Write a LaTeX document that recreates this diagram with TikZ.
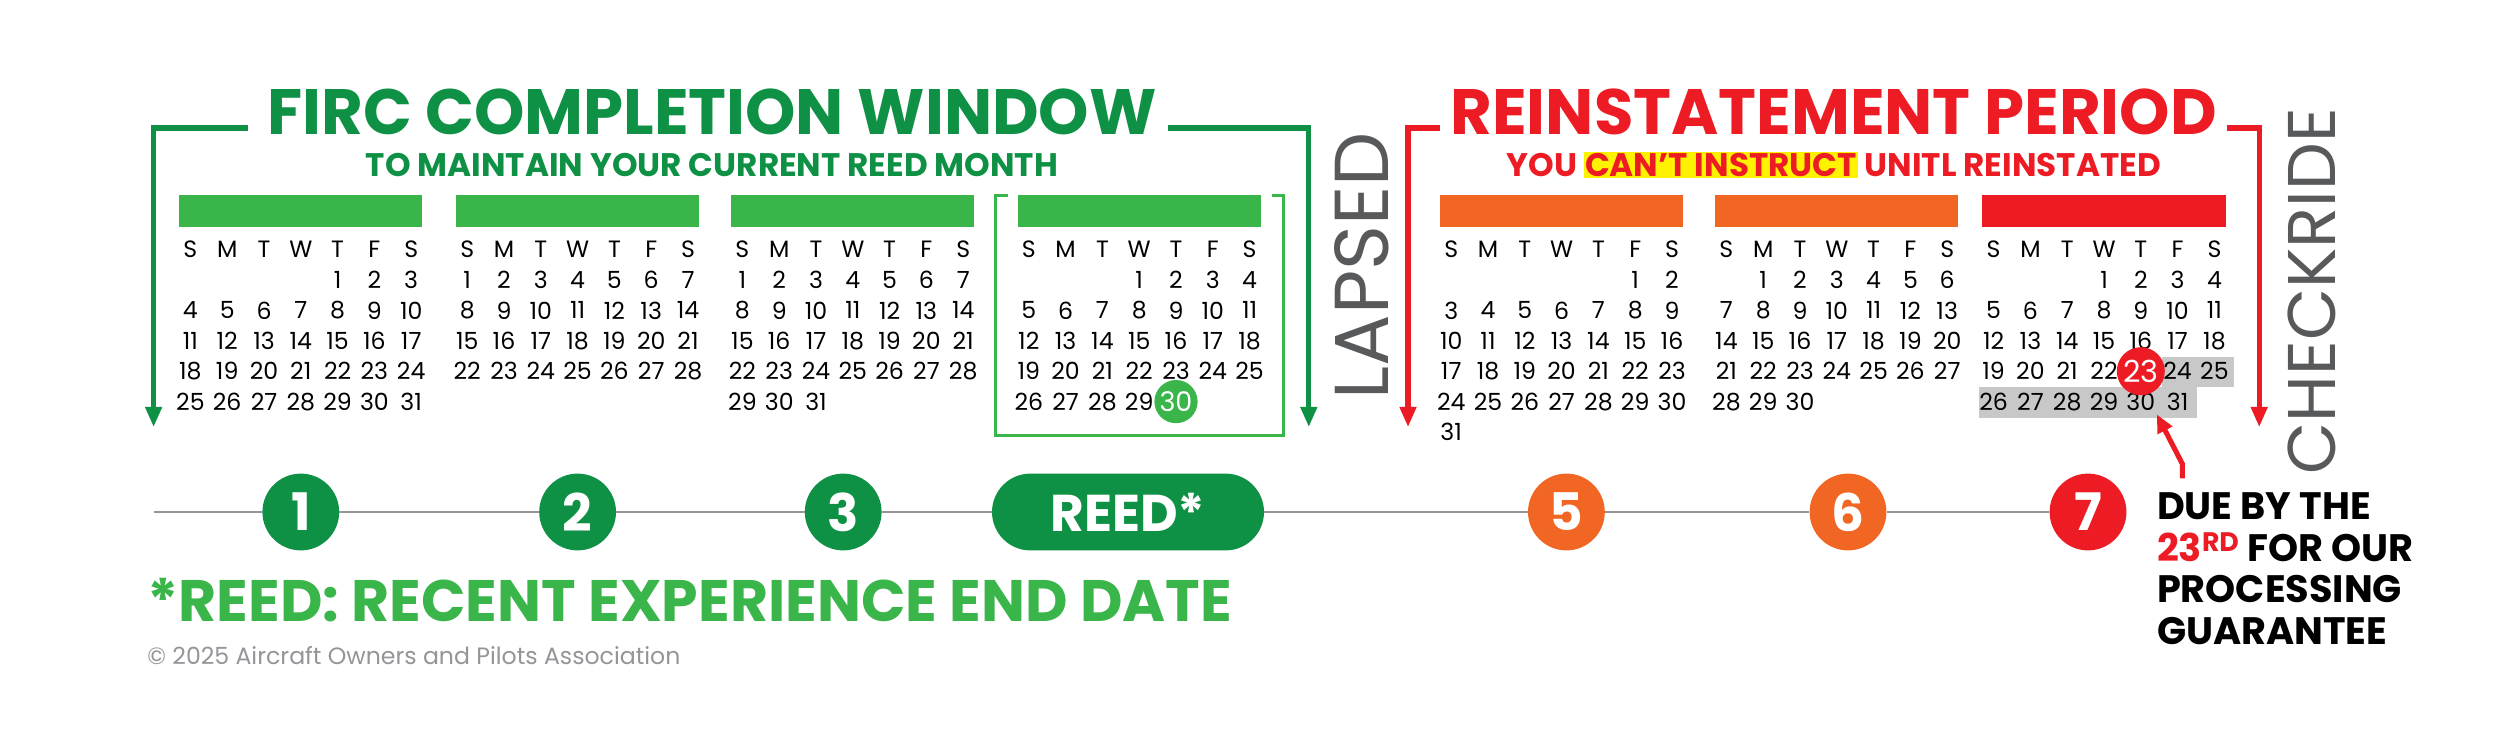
\documentclass[tikz,border=0pt]{standalone}
\usepackage{fontspec}
\setmainfont{Poppins}
\usetikzlibrary{arrows.meta}
\definecolor{fircdark}{HTML}{0F9145}
\definecolor{fircgreen}{HTML}{3AB54A}
\definecolor{reinorange}{HTML}{F26623}
\definecolor{reinred}{HTML}{ED1C24}
\definecolor{labelgray}{HTML}{58595B}
\definecolor{linegray}{HTML}{939598}
\definecolor{hlgray}{HTML}{C8C8C8}
\tikzset{
  daytxt/.style={inner sep=0pt,font=\fontsize{21}{21}\selectfont},
  monthbar/.style={minimum width=152*0.5mm,minimum height=20*0.5mm,inner sep=0pt},
  stepdot/.style={circle,minimum size=48*0.5mm,inner sep=0pt,text=white,font=\fontsize{46}{46}\selectfont\bfseries},
  bracket/.style={line width=4.5pt,-{Triangle[width=14pt,length=18pt]}},
  sidelabel/.style={rotate=90,text=labelgray,inner sep=0pt,font=\fontsize{68}{68}\selectfont},
}
% name, center x, first weekday (0=S), days
\newcommand{\calmonth}[4]{%
  \foreach \d [count=\i from 0] in {S,M,T,W,T,F,S}
    \node[daytxt] (#1w\i) at (#2+\i*23-69,156) {\d};
  \foreach \n in {1,...,#4} {
    \pgfmathtruncatemacro{\pos}{\n+#3-1}
    \pgfmathtruncatemacro{\col}{mod(\pos,7)}
    \pgfmathtruncatemacro{\row}{div(\pos,7)}
    \node[daytxt] (#1d\n) at (#2+\col*23-69,175+\row*19) {\n};
  }}

\begin{document}
\begin{tikzpicture}[x=0.5mm,y=-0.5mm]
    \useasboundingbox (0,0) rectangle (1562.5,463);
    % FIRC window
    \node (firctitle) at (445,70) [inner sep=0pt,text=fircdark,font=\fontsize{57}{57}\selectfont\bfseries] {FIRC COMPLETION WINDOW};
    \node (fircsub) at (445,103) [inner sep=0pt,text=fircdark,font=\fontsize{29}{29}\selectfont\bfseries] {TO MAINTAIN YOUR CURRENT REED MONTH};
    \coordinate (fl1) at (155,80);
    \coordinate (fl2) at (96,80);
    \coordinate (fl3) at (96,267);
    \coordinate (fr1) at (730,80);
    \coordinate (fr2) at (818,80);
    \coordinate (fr3) at (818,267);
    \draw[bracket,fircdark] (fl1) -- (fl2) -- (fl3);
    \draw[bracket,fircdark] (fr1) -- (fr2) -- (fr3);
    % reed box
    \draw[fircgreen,line width=2.5pt] (630,122) -- (622,122) -- (622,272) -- (802,272) -- (802,122) -- (795,122);
    \node (bar1) at (188,132) [monthbar,fill=fircgreen] {};
    \node (bar2) at (361,132) [monthbar,fill=fircgreen] {};
    \node (bar3) at (533,132) [monthbar,fill=fircgreen] {};
    \node (bar4) at (712,132) [monthbar,fill=fircgreen] {};
    \calmonth{ca}{188}{4}{31}
    \calmonth{cb}{361}{0}{28}
    \calmonth{cc}{533}{0}{31}
    \calmonth{cd}{712}{3}{30}
    \node (reeddot) at (cdd30) [circle,fill=fircgreen,minimum size=27*0.5mm,inner sep=0pt,text=white,font=\fontsize{24}{24}\selectfont] {30};
    % lapsed / checkride
    \node (lapsed) at (851,166) [sidelabel] {LAPSED};
    \node (checkride) at (1445,182) [sidelabel,font=\fontsize{60}{60}\selectfont] {CHECKRIDE};
    % reinstatement
    \node (reintitle) at (1146,70) [inner sep=0pt,text=reinred,font=\fontsize{57}{57}\selectfont\bfseries] {REINSTATEMENT PERIOD};
    \node (reinsub) at (1146,103) [inner sep=0pt,text=reinred,font=\fontsize{29}{29}\selectfont\bfseries] {YOU {\setlength\fboxsep{1pt}\colorbox{yellow}{CAN’T INSTRUCT}} UNITL REINSTATED};
    \coordinate (rl1) at (900,80);
    \coordinate (rl2) at (880,80);
    \coordinate (rl3) at (880,267);
    \coordinate (rr1) at (1392,80);
    \coordinate (rr2) at (1412,80);
    \coordinate (rr3) at (1412,267);
    \draw[bracket,reinred] (rl1) -- (rl2) -- (rl3);
    \draw[bracket,reinred] (rr1) -- (rr2) -- (rr3);
    \node (bar5) at (976,132) [monthbar,fill=reinorange] {};
    \node (bar6) at (1148,132) [monthbar,fill=reinorange] {};
    \node (bar7) at (1315,132) [monthbar,fill=reinred] {};
    \fill[hlgray] (1351,223) rectangle (1396,242);
    \fill[hlgray] (1237,242) rectangle (1373,261);
    \calmonth{ce}{976}{5}{31}
    \calmonth{cf}{1148}{1}{30}
    \calmonth{cg}{1315}{3}{31}
    \node (duedot) at (cgd23) [circle,fill=reinred,minimum size=30*0.5mm,inner sep=0pt,text=white,font=\fontsize{27}{27}\selectfont] {23};
    % timeline
    \coordinate (tstart) at (96,320);
    \node (s1) at (188,320) [stepdot,fill=fircdark] {1};
    \node (s2) at (361,320) [stepdot,fill=fircdark] {2};
    \node (s3) at (527,320) [stepdot,fill=fircdark] {3};
    \node (s4) at (705,320) [rounded corners=24*0.5mm,minimum width=170*0.5mm,minimum height=48*0.5mm,inner sep=0pt,fill=fircdark,text=white,font=\fontsize{46}{46}\selectfont\bfseries] {REED*};
    \node (s5) at (979,320) [stepdot,fill=reinorange] {5};
    \node (s6) at (1155,320) [stepdot,fill=reinorange] {6};
    \node (s7) at (1305,320) [stepdot,fill=reinred] {7};
    \draw[linegray,line width=2pt] (tstart) -- (s1) -- (s2) -- (s3) -- (s4) -- (s5) -- (s6) -- (s7);
    \node (reednote) at (92,375) [anchor=west,inner sep=0pt,text=fircgreen,font=\fontsize{52}{52}\selectfont\bfseries] {*REED: RECENT EXPERIENCE END DATE};
    \node (copyright) at (92,410) [anchor=west,inner sep=0pt,text=linegray,font=\fontsize{21}{21}\selectfont] {© 2025 Aircraft Owners and Pilots Association};
    \node (duenote) at (1348,317) [anchor=north west,inner sep=0pt,align=left,yshift=13pt,font=\fontsize{34}{37}\selectfont\bfseries] {DUE BY THE\\{\color{reinred}23\textsuperscript{RD}} FOR OUR\\PROCESSING\\GUARANTEE};
    \coordinate (arrtail) at (1364,299);
    \coordinate (arrbend) at (1364,290);
    \coordinate (arrtip) at (1348,259);
    \draw[reinred,line width=4.5pt,-{Triangle[width=14pt,length=16pt]}] (arrtail) -- (arrbend) -- (arrtip);
\end{tikzpicture}
\end{document}
